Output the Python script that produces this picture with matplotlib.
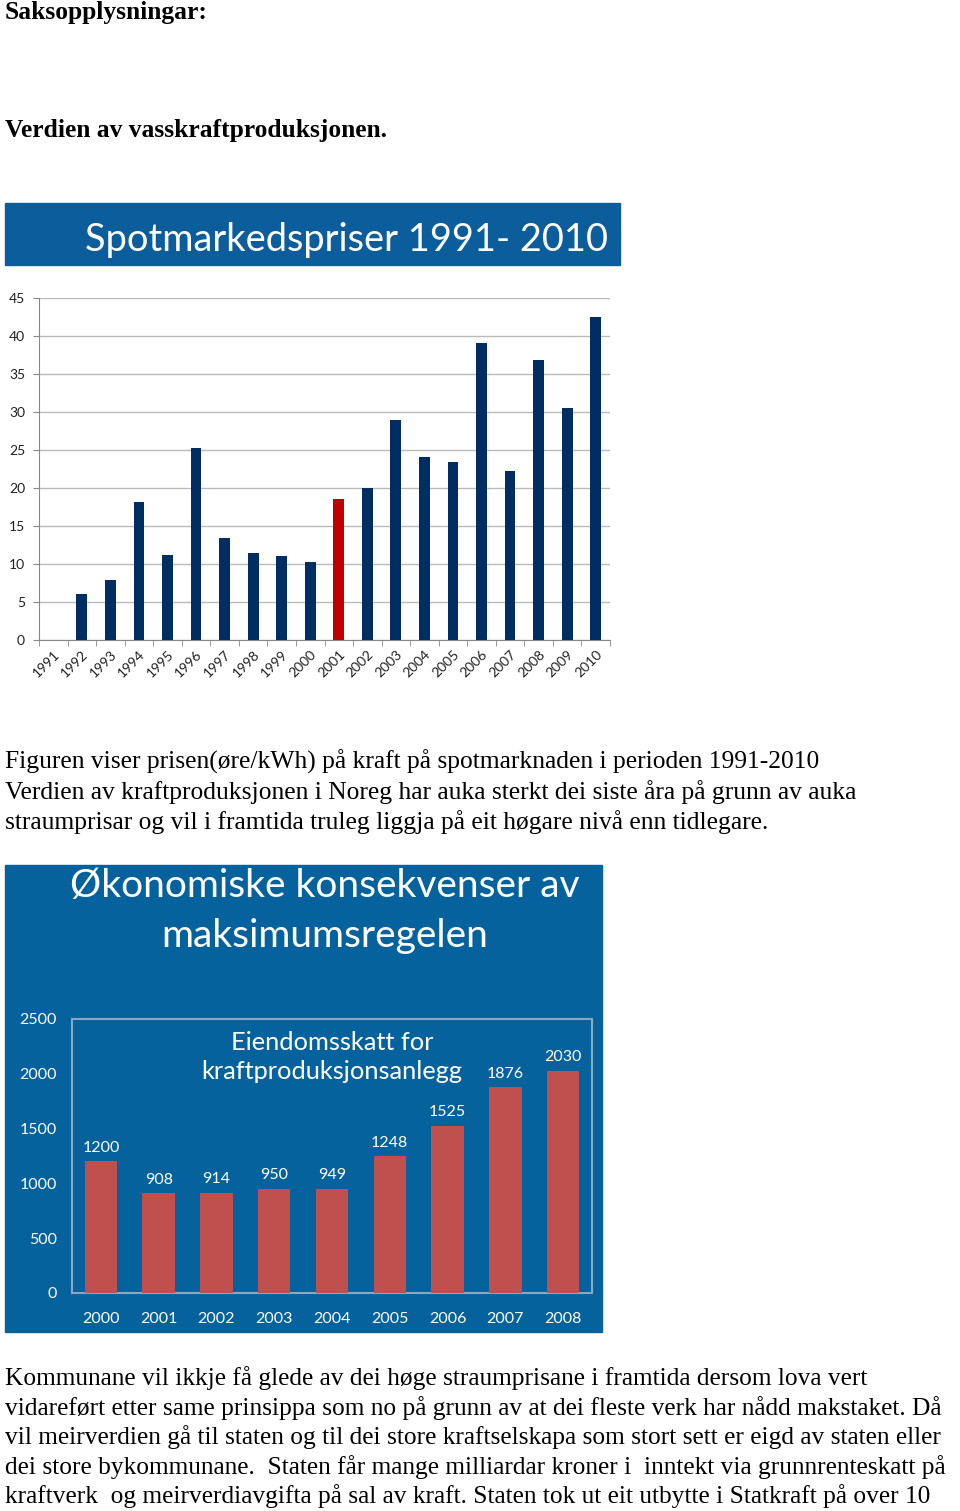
import numpy as np
import matplotlib
matplotlib.use("Agg")
import matplotlib.pyplot as plt
from matplotlib.patches import Rectangle

# spotmarkedspriser (øre/kWh)
years1 = [str(y) for y in range(1991, 2011)]
prices = [0, 6.0, 7.9, 18.2, 11.2, 25.3, 13.4, 11.5, 11.1, 10.3,
          18.5, 20.0, 28.9, 24.1, 23.4, 39.1, 22.2, 36.8, 30.5, 42.5]
highlight = "2001"

# eigedomsskatt
years2 = [str(y) for y in range(2000, 2009)]
skatt = [1200, 908, 914, 950, 949, 1248, 1525, 1876, 2030]

W, H = 960, 1511
fig = plt.figure(figsize=(W / 100, H / 100), dpi=100)
fig.patch.set_facecolor("white")

serif = ["Liberation Serif", "DejaVu Serif"]
sans = ["Lato", "DejaVu Sans"]


def rect(x0, y0, x1, y1):
    return [x0 / W, 1 - y1 / H, (x1 - x0) / W, (y1 - y0) / H]


def ftext(x, y, s, **kw):
    fig.text(x / W, 1 - y / H, s, **kw)


ftext(5, 12, "Saksopplysningar:", family=serif, fontsize=18.4, weight="bold", va="center")
ftext(5, 130, "Verdien av vasskraftproduksjonen.", family=serif, fontsize=18.4, weight="bold", va="center")

# --- chart 1 ---
fig.patches.append(Rectangle((5 / W, 1 - 265 / H), 615 / W, 62 / H,
                             transform=fig.transFigure, color="#0B5E9B", zorder=-1))
ftext(608, 240, "Spotmarkedspriser 1991- 2010", family=sans, fontsize=27.4,
      color="white", ha="right", va="center")

ax = fig.add_axes(rect(39, 298, 610, 640))
x = np.arange(len(years1))
cols = ["#C00000" if y == highlight else "#002E63" for y in years1]
ax.bar(x, prices, width=0.38, color=cols, zorder=3)
ax.set_xlim(-0.5, len(years1) - 0.5)
ax.set_ylim(0, 45)
ax.set_yticks(range(0, 46, 5))
ax.set_xticks(x)
ax.set_xticklabels(years1, rotation=45, ha="right", rotation_mode="anchor",
                   family=sans, fontsize=10, color="#222222")
ax.set_xticks(np.arange(-0.5, len(years1)), minor=True)
ax.tick_params(axis="x", which="major", length=0, pad=6)
ax.tick_params(axis="x", which="minor", length=4, color="#888888")
ax.tick_params(axis="y", length=4, color="#888888", labelsize=10, labelcolor="#222222", pad=6)
for lab in ax.get_yticklabels():
    lab.set_family(sans)
ax.grid(axis="y", color="#BBBBBB", linewidth=1, zorder=0)
for s in ["top", "right"]:
    ax.spines[s].set_visible(False)
ax.spines["left"].set_color("#888888")
ax.spines["bottom"].set_color("#888888")

# --- text 1 ---
para1 = ["Figuren viser prisen(øre/kWh) på kraft på spotmarknaden i perioden 1991-2010",
         "Verdien av kraftproduksjonen i Noreg har auka sterkt dei siste åra på grunn av auka",
         "straumprisar og vil i framtida truleg liggja på eit høgare nivå enn tidlegare."]
for i, line in enumerate(para1):
    ftext(5, 762 + i * 30, line, family=serif, fontsize=18.4, va="center")

# --- chart 2 ---
fig.patches.append(Rectangle((5 / W, 1 - 1332 / H), 597 / W, 467 / H,
                             transform=fig.transFigure, color="#05629D", zorder=-1))
ftext(325, 886, "Økonomiske konsekvenser av", family=sans, fontsize=28,
      color="white", ha="center", va="center")
ftext(325, 936, "maksimumsregelen", family=sans, fontsize=28,
      color="white", ha="center", va="center")

ax2 = fig.add_axes(rect(72, 1019, 592, 1293))
ax2.set_facecolor("none")
x2 = np.arange(len(years2))
ax2.bar(x2, skatt, width=0.56, color="#C0504D", zorder=3)
for xi, v in zip(x2, skatt):
    ax2.text(xi, v + 60, str(v), color="white", ha="center", va="bottom",
             family=sans, fontsize=11.5)
ax2.set_xlim(-0.5, len(years2) - 0.5)
ax2.set_ylim(0, 2500)
ax2.set_yticks(range(0, 2501, 500))
ax2.set_xticks(x2)
ax2.set_xticklabels(years2, family=sans, fontsize=11.5, color="white")
for lab in ax2.get_yticklabels():
    lab.set_family(sans)
ax2.tick_params(axis="both", length=0, labelsize=11.5, labelcolor="white")
ax2.tick_params(axis="y", pad=11)
ax2.tick_params(axis="x", pad=14)
for s in ax2.spines.values():
    s.set_color("#8CA8C0")
    s.set_linewidth(1.5)
ax2.text(0.5, 0.955, "Eiendomsskatt for\nkraftproduksjonsanlegg", transform=ax2.transAxes,
         color="white", ha="center", va="top", family=sans, fontsize=18.3, linespacing=1.3)

# --- text 2 ---
para2 = ["Kommunane vil ikkje få glede av dei høge straumprisane i framtida dersom lova vert",
         "vidareført etter same prinsippa som no på grunn av at dei fleste verk har nådd makstaket. Då",
         "vil meirverdien gå til staten og til dei store kraftselskapa som stort sett er eigd av staten eller",
         "dei store bykommunane.  Staten får mange milliardar kroner i  inntekt via grunnrenteskatt på",
         "kraftverk  og meirverdiavgifta på sal av kraft. Staten tok ut eit utbytte i Statkraft på over 10"]
for i, line in enumerate(para2):
    ftext(5, 1378 + i * 29.6, line, family=serif, fontsize=18.3, va="center")

fig.savefig("out.png", dpi=100)
